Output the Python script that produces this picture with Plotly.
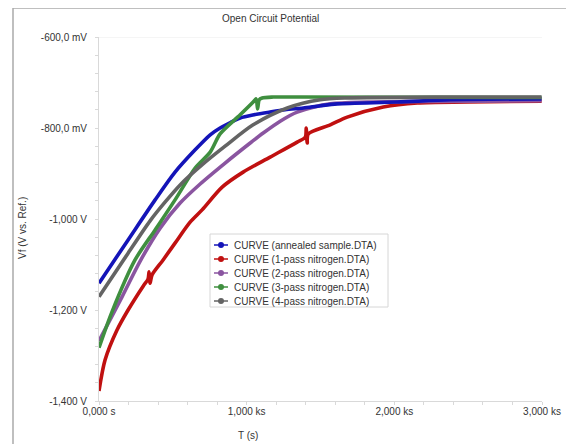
import plotly.graph_objects as go

# ---- data (time in s, potential in mV) ----
names = [
    "CURVE (annealed sample.DTA)",
    "CURVE (1-pass nitrogen.DTA)",
    "CURVE (2-pass nitrogen.DTA)",
    "CURVE (3-pass nitrogen.DTA)",
    "CURVE (4-pass nitrogen.DTA)",
]
colors = ["#1414b8", "#c01010", "#8a55a0", "#3f8f3f", "#646464"]

t_annealed = [0, 197, 380, 515, 651, 753, 820, 890, 956, 1050, 1159, 1260, 1383, 1500, 1614, 2020, 2380, 2997]
v_annealed = [-1141, -1046, -958, -897, -848, -815, -800, -788, -778, -771, -765, -760, -756, -751, -747, -743, -738, -736]

t_pass1 = [0, 41, 122, 197, 300, 332, 339, 346, 359, 434, 515, 617, 698, 834, 976, 1159, 1342, 1397, 1403, 1410, 1417, 1566, 1681, 1925, 2156, 2495, 2997]
v_pass1 = [-1378, -1310, -1244, -1200, -1147, -1132, -1116, -1141, -1123, -1090, -1053, -1007, -980, -930, -897, -864, -831, -820, -800, -833, -813, -793, -776, -754, -745, -743, -741]

t_pass2 = [0, 156, 278, 414, 549, 685, 854, 1024, 1112, 1227, 1342, 1566, 1817, 2997]
v_pass2 = [-1268, -1171, -1093, -1020, -965, -923, -877, -833, -811, -785, -765, -747, -743, -740]

t_pass3 = [0, 88, 244, 380, 515, 651, 753, 820, 956, 1044, 1064, 1074, 1085, 1105, 1180, 1363, 2997]
v_pass3 = [-1283, -1204, -1090, -1024, -958, -888, -853, -813, -771, -743, -736, -758, -738, -734, -732, -732, -733]

t_pass4 = [0, 197, 346, 447, 556, 705, 854, 1044, 1275, 1498, 1681, 2380, 2997]
v_pass4 = [-1171, -1075, -1004, -963, -923, -879, -840, -793, -756, -738, -734, -732, -732]

series_t = [t_annealed, t_pass1, t_pass2, t_pass3, t_pass4]
series_v = [v_annealed, v_pass1, v_pass2, v_pass3, v_pass4]

x_tickvals = [0, 1000, 2000, 3000]
x_ticktext = ["0,000 s", "1,000 ks", "2,000 ks", "3,000 ks"]
y_tickvals = [-1400, -1200, -1000, -800, -600]
y_ticktext = ["-1,400 V", "-1,200 V", "-1,000 V", "-800,0 mV", "-600,0 mV"]

# ---- figure ----
fig = go.Figure()
order = [1, 2, 0, 3, 4]
for i in order:
    fig.add_trace(go.Scatter(
        x=series_t[i], y=series_v[i], mode="lines", name=names[i],
        line=dict(color=colors[i], width=3.6, shape="spline", smoothing=0.8),
        showlegend=False, hoverinfo="skip"))

font = "Liberation Sans, Arial, sans-serif"
txt = "#333333"
axis_common = dict(
    showgrid=False, zeroline=False, showline=True, linecolor="#d9d9d9", linewidth=1,
    ticks="outside", ticklen=3, tickcolor="#d9d9d9",
    tickfont=dict(family=font, size=10, color=txt),
)
fig.update_xaxes(range=[0, 3000], tickmode="array", tickvals=x_tickvals, ticktext=x_ticktext,
                 minor=dict(tickmode="linear", tick0=0, dtick=200, ticks="outside", ticklen=3,
                            tickcolor="#d9d9d9"),
                 ticklabelstandoff=-2,
                 **axis_common)
fig.update_yaxes(range=[-1400, -600], tickmode="array", tickvals=y_tickvals, ticktext=y_ticktext,
                 minor=dict(tickmode="linear", tick0=-1400, dtick=40, ticks="outside", ticklen=3,
                            tickcolor="#d9d9d9"),
                 ticklabelstandoff=6,
                 **axis_common)

# page pixel -> paper helpers (plot area on page: x 99..542, y 37..401)
def px(x):
    return (x - 99) / 443.0

def py(y):
    return (401 - y) / 364.0

annotations = [
    dict(text="Open Circuit Potential", xref="paper", yref="paper", x=px(270), y=py(19),
         xanchor="center", yanchor="middle", showarrow=False,
         font=dict(family=font, size=10, color=txt)),
    dict(text="T (s)", xref="paper", yref="paper", x=px(248), y=py(435),
         xanchor="center", yanchor="middle", showarrow=False,
         font=dict(family=font, size=10, color=txt)),
    dict(text="Vf (V vs. Ref.)", xref="paper", yref="paper", x=px(22), y=py(228),
         xanchor="center", yanchor="middle", textangle=-90, showarrow=False,
         font=dict(family=font, size=10, color=txt)),
]
shapes = [
    dict(type="line", xref="paper", yref="y", x0=0, x1=1, y0=-600, y1=-600,
         line=dict(color="#ececec", width=1), layer="below"),
    dict(type="line", xref="paper", yref="paper", x0=px(13), x1=px(600), y0=py(8), y1=py(8),
         line=dict(color="#aaaaaa", width=1.5)),
    dict(type="line", xref="paper", yref="paper", x0=px(13), x1=px(13), y0=py(8), y1=py(460),
         line=dict(color="#aaaaaa", width=1.5)),
    # legend box
    dict(type="rect", xref="paper", yref="paper", x0=px(210), x1=px(388), y0=py(234), y1=py(307),
         line=dict(color="#d6d6d6", width=1), fillcolor="white"),
]
for i, nm in enumerate(names):
    yy = 245 + 14 * i
    shapes.append(dict(type="line", xref="paper", yref="paper", x0=px(214), x1=px(228),
                       y0=py(yy), y1=py(yy), line=dict(color=colors[i], width=1.5)))
    shapes.append(dict(type="circle", xref="paper", yref="paper", x0=px(218), x1=px(224),
                       y0=py(yy + 3), y1=py(yy - 3), line=dict(color=colors[i], width=0),
                       fillcolor=colors[i]))
    annotations.append(dict(text=nm, xref="paper", yref="paper", x=px(232), y=py(yy),
                            xanchor="left", yanchor="middle", showarrow=False,
                            font=dict(family=font, size=10, color=txt)))

# page has an 8px body margin, so the figure is offset by 8px
fig.update_layout(
    width=566, height=436,
    margin=dict(l=91, r=32, t=29, b=43),
    paper_bgcolor="white", plot_bgcolor="white",
    font=dict(family=font, size=10, color=txt),
    showlegend=False,
    annotations=annotations,
    shapes=shapes,
)

fig.write_html("out.html")
